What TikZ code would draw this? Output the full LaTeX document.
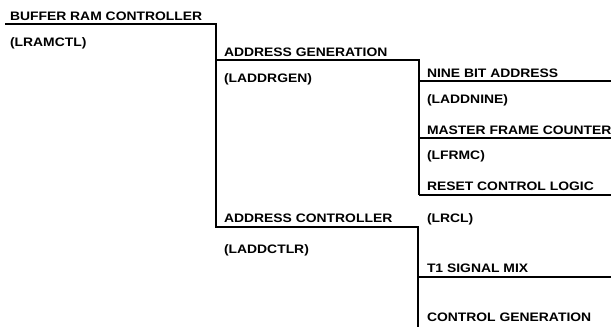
\documentclass[tikz,border=0pt]{standalone}
\usepackage{fontspec}
\setmainfont{Liberation Sans}[FakeStretch=1.13]
\begin{document}
\begin{tikzpicture}[x=1pt,y=-1pt,
  lbl/.style={anchor=base west,inner sep=0pt,outer sep=0pt,font=\fontsize{12.3}{13}\selectfont\bfseries},
  wire/.style={line width=1.1pt,line join=miter,draw=black}]
\useasboundingbox (0,0) rectangle (611,327);
% texts
\node[lbl] (brc) at (10,20) {BUFFER RAM CONTROLLER};
\node[lbl] (brcid) at (10,46) {(LRAMCTL)};
\node[lbl] (agen) at (224,56) {ADDRESS GENERATION};
\node[lbl] (agenid) at (224,82) {(LADDRGEN)};
\node[lbl] (nine) at (427,77) {NINE BIT ADDRESS};
\node[lbl] (nineid) at (427,103) {(LADDNINE)};
\node[lbl] (mfc) at (427,134) {MASTER FRAME COUNTER};
\node[lbl] (mfcid) at (427,159) {(LFRMC)};
\node[lbl] (rcl) at (427,190) {RESET CONTROL LOGIC};
\node[lbl] (rclid) at (427,222) {(LRCL)};
\node[lbl] (actl) at (224,222) {ADDRESS CONTROLLER};
\node[lbl] (actlid) at (224,253) {(LADDCTLR)};
\node[lbl] (t1) at (427,272) {T1 SIGNAL MIX};
\node[lbl] (cgen) at (427,321) {CONTROL GENERATION};
% line coordinates
\coordinate (a0) at (5,24);
\coordinate (a1) at (216,24);
\coordinate (a2) at (216,60);
\coordinate (a3) at (216,227);
\coordinate (b1) at (419,60);
\coordinate (b2) at (419,81);
\coordinate (b3) at (419,138);
\coordinate (b4) at (419,195);
\coordinate (c1) at (418,227);
\coordinate (c2) at (418,277);
\coordinate (c3) at (418,327);
\coordinate (r1) at (611,81);
\coordinate (r2) at (611,138);
\coordinate (r3) at (611,195);
\coordinate (r4) at (611,277);
% connectors
\draw[wire] (a0) -- (a1) -- (a3) -- (c1) -- (c3);
\draw[wire] (a2) -- (b1) -- (b4);
\draw[wire] (b2) -- (r1);
\draw[wire] (b3) -- (r2);
\draw[wire] (b4) -- (r3);
\draw[wire] (c2) -- (r4);
\end{tikzpicture}
\end{document}
